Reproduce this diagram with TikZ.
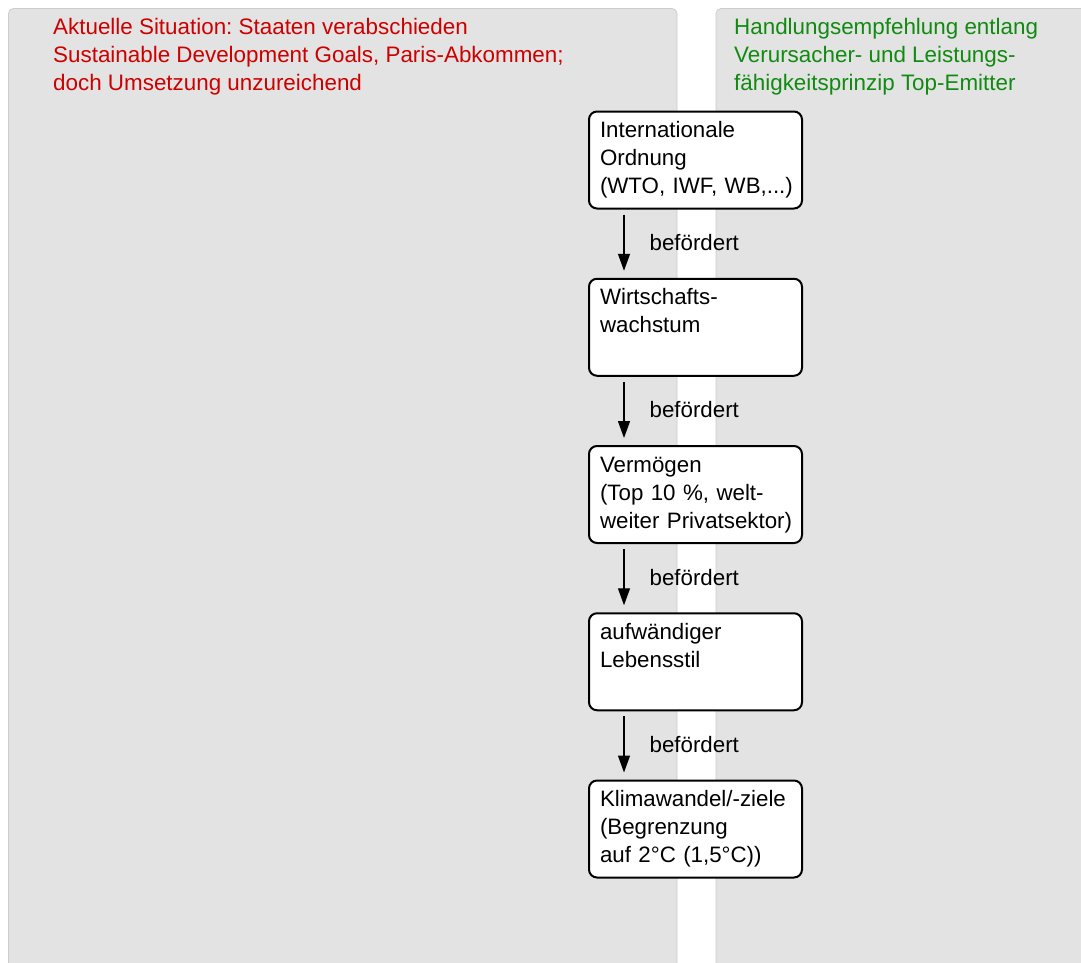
\documentclass[tikz,border=0pt]{standalone}
\usepackage{fontspec}
\setmainfont{Liberation Sans}
\frenchspacing
\hbadness=10000 \hfuzz=50pt
\usetikzlibrary{arrows.meta}
\definecolor{panelfill}{HTML}{E3E3E3}
\definecolor{panelline}{HTML}{CCCCCC}
\definecolor{hdrred}{HTML}{CC0000}
\definecolor{hdrgreen}{HTML}{118A11}
\tikzset{
  panel/.style={fill=panelfill, draw=panelline, line width=0.8pt, rounded corners=5pt},
  hdr/.style={anchor=north west, inner sep=0pt, align=left, font=\fontsize{22.4}{28.4}\selectfont},
  flowbox/.style={draw=black, fill=white, line width=2pt, rounded corners=8pt,
    minimum width=213pt, minimum height=97pt, inner xsep=11pt, inner ysep=0pt,
    text width=191pt, align=left, font=\fontsize{22.3}{28}\selectfont},
  arr/.style={line width=1.3pt, -{Triangle[length=17pt,width=12pt]}},
  lbl/.style={anchor=west, inner sep=0pt, font=\fontsize{22.3}{28}\selectfont}
}
\begin{document}
\begin{tikzpicture}[x=1pt,y=-1pt]
\useasboundingbox (0,0) rectangle (1081,962);
\clip (0,0) rectangle (1081,962);
% panels
\path[panel] (8.5,8.5) rectangle (677,990);
\path[panel] (716,8.5) rectangle (1100,990);
% headers
\node[hdr, text=hdrred] (hl) at (53,14) {\strut Aktuelle Situation: Staaten verabschieden\\Sustainable Development Goals, Paris-Abkommen;\\doch Umsetzung unzureichend};
\node[hdr, text=hdrgreen] (hr) at (734,14) {\strut Handlungsempfehlung entlang\\Verursacher- und Leistungs-\\fähigkeitsprinzip Top-Emitter};
% boxes
\node[flowbox] (b1) at (695.5,160) {\strut Internationale\\Ordnung\\\mbox{(WTO, IWF, WB,...)}\strut};
\node[flowbox] (b2) at (695.5,327.25) {\strut Wirtschafts-\\wachstum\\\strut};
\node[flowbox] (b3) at (695.5,494.5) {\strut Vermögen\\\mbox{(Top 10 \%, welt-}\\\mbox{weiter Privatsektor)}\strut};
\node[flowbox] (b4) at (695.5,661.75) {\strut aufwändiger\\Lebensstil\\\strut};
\node[flowbox] (b5) at (695.5,829) {\strut Klimawandel/-ziele\\(Begrenzung\\\mbox{auf 2°C (1,5°C))}\strut};
% arrows
\foreach \a/\b in {b1/b2,b2/b3,b3/b4,b4/b5}{
  \draw[arr] ([xshift=36pt,yshift=-5pt]\a.south west) -- ([xshift=36pt,yshift=7pt]\b.north west)
    node[lbl, midway, xshift=25pt] {befördert};
}
\end{tikzpicture}
\end{document}
